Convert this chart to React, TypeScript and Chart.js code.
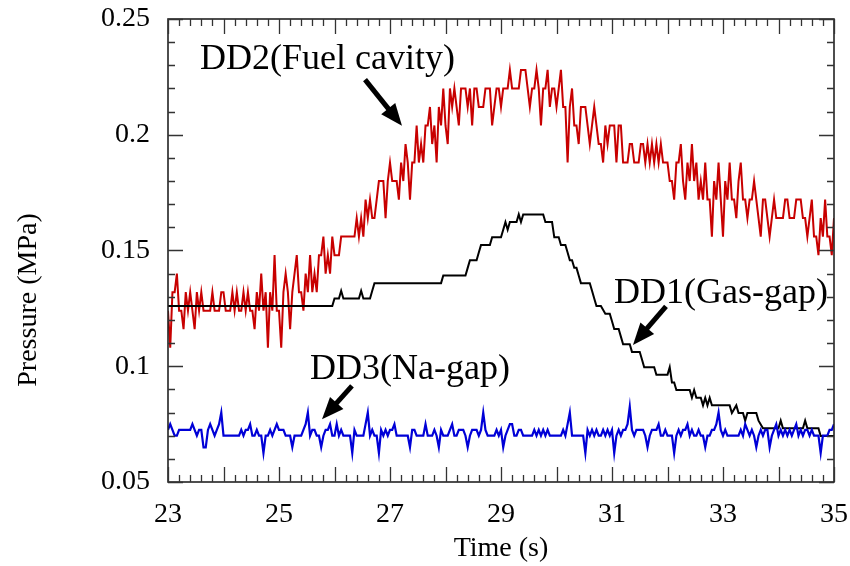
import React, { useEffect, useRef } from "react";
import { Chart, registerables } from "chart.js";

Chart.register(...registerables);

// ---- sampling of the two noisy gauges ----
const T_START = 23;
const SAMPLE_STEP = 0.04;

// DD2 (Fuel cavity) pressure, MPa
const dd2FuelCavity = [
  0.124,0.108,0.132,0.132,0.140,0.124,0.124,0.116,0.132,0.124,
  0.132,0.124,0.116,0.132,0.124,0.132,0.124,0.124,0.124,0.124,
  0.132,0.124,0.124,0.124,0.132,0.132,0.124,0.124,0.124,0.132,
  0.124,0.132,0.124,0.124,0.132,0.124,0.132,0.124,0.124,0.116,
  0.132,0.124,0.140,0.124,0.132,0.108,0.132,0.124,0.148,0.124,
  0.124,0.108,0.132,0.140,0.132,0.116,0.132,0.140,0.148,0.132,
  0.132,0.124,0.140,0.132,0.148,0.132,0.140,0.132,0.148,0.148,
  0.156,0.140,0.148,0.140,0.156,0.148,0.148,0.148,0.156,0.156,
  0.156,0.156,0.156,0.156,0.156,0.164,0.156,0.164,0.156,0.172,
  0.164,0.172,0.164,0.164,0.172,0.180,0.180,0.180,0.164,0.180,
  0.188,0.180,0.180,0.180,0.172,0.188,0.180,0.196,0.188,0.172,
  0.188,0.188,0.204,0.188,0.196,0.188,0.204,0.204,0.212,0.196,
  0.204,0.188,0.212,0.204,0.220,0.204,0.196,0.220,0.212,0.220,
  0.212,0.204,0.220,0.220,0.220,0.212,0.220,0.204,0.220,0.220,
  0.212,0.212,0.212,0.220,0.220,0.220,0.204,0.212,0.220,0.220,
  0.212,0.220,0.220,0.220,0.228,0.220,0.220,0.220,0.220,0.228,
  0.228,0.228,0.220,0.212,0.220,0.220,0.228,0.220,0.204,0.220,
  0.220,0.228,0.212,0.220,0.220,0.212,0.220,0.228,0.212,0.212,
  0.188,0.212,0.220,0.204,0.204,0.196,0.212,0.212,0.212,0.204,
  0.196,0.204,0.212,0.204,0.196,0.196,0.188,0.204,0.196,0.204,
  0.204,0.204,0.188,0.204,0.204,0.188,0.188,0.188,0.196,0.196,
  0.188,0.188,0.188,0.196,0.196,0.188,0.196,0.188,0.196,0.188,
  0.196,0.188,0.196,0.188,0.188,0.188,0.180,0.180,0.172,0.188,
  0.188,0.196,0.180,0.172,0.188,0.180,0.196,0.180,0.188,0.172,
  0.180,0.172,0.188,0.172,0.172,0.156,0.180,0.172,0.188,0.172,
  0.156,0.180,0.172,0.188,0.172,0.172,0.164,0.180,0.188,0.172,
  0.172,0.164,0.172,0.172,0.180,0.172,0.164,0.156,0.172,0.172,
  0.164,0.156,0.164,0.172,0.164,0.164,0.164,0.164,0.172,0.172,
  0.164,0.164,0.164,0.172,0.172,0.172,0.164,0.164,0.156,0.164,
  0.172,0.156,0.156,0.148,0.164,0.156,0.172,0.156,0.156,0.148,
  0.164,
];

// DD3 (Na-gap) pressure, MPa
const dd3NaGap = [
  0.0725,0.075,0.0725,0.07,0.07,0.0725,0.0725,0.0725,0.0725,0.0725,
  0.0725,0.075,0.0725,0.07,0.0725,0.0725,0.065,0.065,0.0725,0.075,
  0.0725,0.07,0.0725,0.075,0.08,0.07,0.07,0.07,0.07,0.07,
  0.07,0.07,0.07,0.0725,0.07,0.0725,0.0725,0.075,0.07,0.07,
  0.0725,0.07,0.07,0.0625,0.07,0.07,0.0725,0.07,0.0725,0.075,
  0.0725,0.0725,0.0725,0.07,0.07,0.07,0.065,0.07,0.07,0.07,
  0.07,0.0725,0.075,0.08,0.07,0.0725,0.0725,0.07,0.07,0.065,
  0.07,0.0725,0.0725,0.075,0.07,0.07,0.075,0.07,0.0725,0.07,
  0.07,0.07,0.07,0.0625,0.0725,0.07,0.07,0.07,0.07,0.075,
  0.08,0.07,0.0725,0.07,0.07,0.0625,0.0725,0.07,0.0725,0.07,
  0.0725,0.0725,0.075,0.07,0.07,0.07,0.07,0.07,0.07,0.065,
  0.0725,0.0725,0.07,0.07,0.07,0.07,0.075,0.07,0.07,0.07,
  0.0725,0.07,0.065,0.0725,0.07,0.07,0.07,0.0725,0.075,0.07,
  0.07,0.0725,0.0725,0.0725,0.07,0.065,0.07,0.0725,0.0725,0.0725,
  0.07,0.0725,0.08,0.0725,0.07,0.07,0.07,0.07,0.0725,0.07,
  0.0725,0.065,0.07,0.0725,0.075,0.075,0.07,0.07,0.0725,0.0725,
  0.07,0.07,0.07,0.07,0.07,0.0725,0.07,0.0725,0.07,0.0725,
  0.07,0.0725,0.07,0.07,0.07,0.07,0.07,0.07,0.0725,0.07,
  0.075,0.08,0.07,0.07,0.07,0.07,0.07,0.07,0.0625,0.0725,
  0.07,0.0725,0.07,0.0725,0.07,0.07,0.0725,0.07,0.0725,0.07,
  0.0725,0.0625,0.07,0.0725,0.07,0.0725,0.0725,0.075,0.0825,0.0725,
  0.07,0.0725,0.0725,0.0725,0.0725,0.07,0.065,0.07,0.0725,0.0725,
  0.0725,0.075,0.07,0.07,0.0725,0.07,0.07,0.07,0.0625,0.07,
  0.0725,0.07,0.0725,0.0725,0.075,0.07,0.0725,0.07,0.07,0.0725,
  0.07,0.07,0.065,0.07,0.07,0.0725,0.0725,0.075,0.08,0.0725,
  0.07,0.0725,0.07,0.07,0.07,0.07,0.07,0.07,0.0725,0.07,
  0.075,0.0725,0.07,0.0725,0.07,0.065,0.07,0.0725,0.07,0.0725,
  0.0725,0.065,0.07,0.0725,0.075,0.07,0.0725,0.07,0.0725,0.07,
  0.0725,0.07,0.0725,0.075,0.07,0.0725,0.07,0.0725,0.0725,0.07,
  0.0725,0.07,0.07,0.07,0.0625,0.07,0.07,0.07,0.0725,0.0725,
  0.075,
];

// DD1 (Gas-gap): stepped trace, vertices (time s, pressure MPa)
const dd1Time = [
  23.00,25.96,26.00,26.08,26.12,26.16,26.44,26.48,26.52,26.64,
  26.68,26.72,27.92,27.96,28.36,28.40,28.44,28.56,28.60,28.64,
  28.80,28.84,29.00,29.04,29.08,29.12,29.16,29.28,29.32,29.36,
  29.40,29.76,29.80,29.92,29.96,30.04,30.08,30.16,30.20,30.24,
  30.28,30.32,30.36,30.40,30.44,30.60,30.64,30.68,30.72,30.80,
  30.88,30.96,31.00,31.04,31.12,31.16,31.20,31.32,31.36,31.50,
  31.54,31.58,31.76,31.80,32.00,32.04,32.08,32.12,32.16,32.40,
  32.44,32.48,32.52,32.60,32.64,32.68,32.72,32.76,32.80,33.12,
  33.16,33.24,33.28,33.36,33.40,33.44,33.60,33.64,33.72,34.00,
  34.04,34.08,34.44,34.48,34.52,34.72,34.76,35.00,
];
const dd1Pressure = [
  0.1260,0.1260,0.1293,0.1293,0.1326,0.1293,0.1293,0.1326,0.1293,0.1293,
  0.1326,0.1359,0.1359,0.1392,0.1392,0.1425,0.1458,0.1458,0.1491,0.1524,
  0.1524,0.1557,0.1557,0.1590,0.1623,0.1590,0.1623,0.1623,0.1656,0.1623,
  0.1656,0.1656,0.1623,0.1623,0.1557,0.1557,0.1524,0.1524,0.1491,0.1458,
  0.1458,0.1425,0.1425,0.1392,0.1359,0.1359,0.1326,0.1293,0.1260,0.1260,
  0.1227,0.1227,0.1194,0.1161,0.1161,0.1128,0.1095,0.1095,0.1062,0.1062,
  0.1029,0.0996,0.0996,0.0963,0.0963,0.0996,0.0930,0.0930,0.0897,0.0897,
  0.0864,0.0897,0.0864,0.0864,0.0831,0.0864,0.0831,0.0864,0.0831,0.0831,
  0.0798,0.0831,0.0798,0.0798,0.0765,0.0798,0.0798,0.0765,0.0732,0.0732,
  0.0765,0.0732,0.0732,0.0765,0.0732,0.0732,0.0699,0.0699,
];

// axes
const X_MIN = 23;
const X_MAX = 35;
const Y_MIN = 0.05;
const Y_MAX = 0.25;
const xTickValues = [23, 25, 27, 29, 31, 33, 35];
const xTickLabels = ["23", "25", "27", "29", "31", "33", "35"];
const yTickValues = [0.05, 0.1, 0.15, 0.2, 0.25];
const yTickLabels = ["0.05", "0.1", "0.15", "0.2", "0.25"];

// annotation labels (placed in data coordinates)
const callouts = [
  { text: "DD2(Fuel cavity)", textAt: [23.577, 0.2286], from: [26.55, 0.2238], to: [27.216, 0.2039] },
  { text: "DD1(Gas-gap)", textAt: [31.036, 0.1274], from: [31.973, 0.1259], to: [31.378, 0.1092] },
  { text: "DD3(Na-gap)", textAt: [25.559, 0.0945], from: [26.315, 0.0915], to: [25.775, 0.0771] },
];

const FONT = "'Liberation Serif', 'Times New Roman', Times, serif";

function drawArrow(ctx: CanvasRenderingContext2D, x1: number, y1: number, x2: number, y2: number) {
  const ang = Math.atan2(y2 - y1, x2 - x1);
  const headLen = 22;
  const headHalf = 9;
  const c = Math.cos(ang);
  const s = Math.sin(ang);
  const bx = x2 - headLen * c;
  const by = y2 - headLen * s;
  ctx.strokeStyle = "#000";
  ctx.fillStyle = "#000";
  ctx.lineWidth = 5;
  ctx.lineCap = "butt";
  ctx.beginPath();
  ctx.moveTo(x1, y1);
  ctx.lineTo(bx + 2 * c, by + 2 * s);
  ctx.stroke();
  ctx.beginPath();
  ctx.moveTo(x2, y2);
  ctx.lineTo(bx + headHalf * s, by - headHalf * c);
  ctx.lineTo(bx - headHalf * s, by + headHalf * c);
  ctx.closePath();
  ctx.fill();
}

const framePlugin = {
  id: "framePlugin",
  afterDatasetsDraw(chart: any) {
    const { ctx, chartArea } = chart;
    const { left, right, top, bottom } = chartArea;
    const xs = chart.scales.x;
    const ys = chart.scales.y;
    ctx.save();
    // frame
    ctx.strokeStyle = "#222";
    ctx.lineWidth = 1.6;
    ctx.strokeRect(left, top, right - left, bottom - top);
    // x ticks (inward, bottom and top)
    ctx.lineWidth = 1.3;
    ctx.strokeStyle = "#333";
    ctx.beginPath();
    for (let k = 0; k <= 60; k++) {
      const v = X_MIN + k * 0.2;
      const px = Math.round(xs.getPixelForValue(v)) + 0.5;
      const len = k % 5 === 0 ? 15 : 7;
      ctx.moveTo(px, bottom);
      ctx.lineTo(px, bottom - len);
      ctx.moveTo(px, top);
      ctx.lineTo(px, top + len);
    }
    for (let k = 0; k <= 20; k++) {
      const v = Y_MIN + k * 0.01;
      const py = Math.round(ys.getPixelForValue(v)) + 0.5;
      const len = k % 5 === 0 ? 15 : 7;
      ctx.moveTo(left, py);
      ctx.lineTo(left + len, py);
      ctx.moveTo(right, py);
      ctx.lineTo(right - len, py);
    }
    ctx.stroke();

    // y axis title
    ctx.fillStyle = "#000";
    ctx.font = `28px ${FONT}`;
    ctx.textAlign = "center";
    ctx.textBaseline = "middle";
    ctx.save();
    ctx.translate(29, 300);
    ctx.rotate(-Math.PI / 2);
    ctx.fillText("Pressure (MPa)", 0, 0);
    ctx.restore();

    // callouts
    ctx.font = `36px ${FONT}`;
    ctx.textAlign = "left";
    ctx.textBaseline = "alphabetic";
    for (const c of callouts) {
      const tx = xs.getPixelForValue(c.textAt[0]);
      const ty = ys.getPixelForValue(c.textAt[1]);
      ctx.fillStyle = "#000";
      ctx.fillText(c.text, tx, ty);
      drawArrow(
        ctx,
        xs.getPixelForValue(c.from[0]),
        ys.getPixelForValue(c.from[1]),
        xs.getPixelForValue(c.to[0]),
        ys.getPixelForValue(c.to[1])
      );
    }
    ctx.restore();
  },
};

export default function App() {
  const canvasRef = useRef<HTMLCanvasElement | null>(null);

  useEffect(() => {
    if (!canvasRef.current) return;
    const sampled = (vals: number[]) => vals.map((v, i) => ({ x: T_START + i * SAMPLE_STEP, y: v }));
    const dd1 = dd1Time.map((t, i) => ({ x: t, y: dd1Pressure[i] }));

    const chart = new Chart(canvasRef.current, {
      type: "line",
      data: {
        datasets: [
          {
            label: "DD3(Na-gap)",
            data: sampled(dd3NaGap),
            borderColor: "rgb(0,0,215)",
            borderWidth: 2.2,
            pointRadius: 0,
            tension: 0,
            fill: false,
            order: 0,
          },
          {
            label: "DD1(Gas-gap)",
            data: dd1,
            borderColor: "#000",
            borderWidth: 2,
            pointRadius: 0,
            tension: 0,
            fill: false,
            order: 1,
          },
          {
            label: "DD2(Fuel cavity)",
            data: sampled(dd2FuelCavity),
            borderColor: "rgb(200,0,0)",
            borderWidth: 2,
            pointRadius: 0,
            tension: 0,
            fill: false,
            order: 2,
          },
        ],
      },
      options: {
        animation: false,
        responsive: false,
        maintainAspectRatio: false,
        layout: { padding: { top: 19, right: 16, left: 0, bottom: 0 } },
        plugins: {
          legend: { display: false },
          tooltip: { enabled: false },
        },
        scales: {
          x: {
            type: "linear",
            min: X_MIN,
            max: X_MAX,
            grid: { display: false, drawTicks: false },
            border: { display: false },
            afterBuildTicks: (s: any) => {
              s.ticks = xTickValues.map((v) => ({ value: v }));
            },
            afterFit: (s: any) => {
              s.height = 84;
              s.paddingLeft = 0;
              s.paddingRight = 0;
            },
            ticks: {
              padding: 16,
              color: "#000",
              font: { family: FONT, size: 28 },
              maxRotation: 0,
              autoSkip: false,
              callback: (v: any) => {
                const i = xTickValues.findIndex((t) => Math.abs(t - Number(v)) < 1e-6);
                return i >= 0 ? xTickLabels[i] : "";
              },
            },
            title: {
              display: true,
              text: "Time (s)",
              color: "#000",
              font: { family: FONT, size: 28 },
              padding: { top: 0, bottom: 1 },
            },
          },
          y: {
            type: "linear",
            min: Y_MIN,
            max: Y_MAX,
            grid: { display: false, drawTicks: false },
            border: { display: false },
            afterBuildTicks: (s: any) => {
              s.ticks = yTickValues.map((v) => ({ value: v }));
            },
            afterFit: (s: any) => {
              s.width = 168;
              s.paddingTop = 0;
              s.paddingBottom = 0;
            },
            ticks: {
              padding: 18,
              color: "#000",
              font: { family: FONT, size: 28 },
              autoSkip: false,
              callback: (v: any) => {
                const i = yTickValues.findIndex((t) => Math.abs(t - Number(v)) < 1e-6);
                return i >= 0 ? yTickLabels[i] : "";
              },
            },
          },
        },
      },
      plugins: [framePlugin],
    });
    return () => chart.destroy();
  }, []);

  return (
    <div style={{ position: "fixed", left: 0, top: 0, width: 850, height: 566, background: "#fff" }}>
      <canvas ref={canvasRef} width={850} height={566} style={{ display: "block" }} />
    </div>
  );
}
